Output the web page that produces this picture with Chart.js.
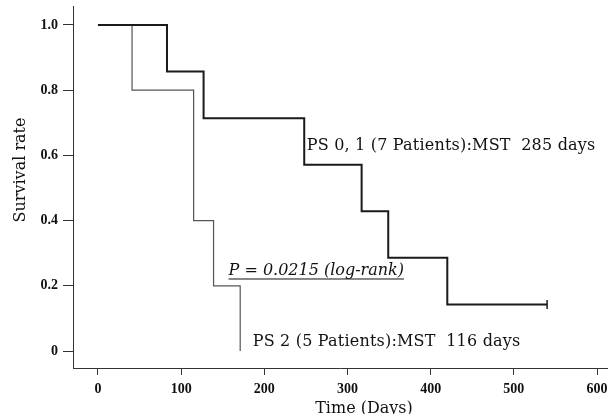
<!DOCTYPE html>
<html>
<head>
<meta charset="utf-8">
<script src="https://cdn.jsdelivr.net/npm/chart.js@4"></script>
<style>
  html, body { margin: 0; padding: 0; background: #fff; }
  #wrap { width: 613px; height: 414px; position: relative; }
</style>
</head>
<body>
<div id="wrap"><canvas id="km"></canvas></div>
<script>
// --- data ---
const ps01Days = [0, 83, 127, 248, 317, 349, 420, 540];
const ps01Surv = [1.0, 0.857, 0.714, 0.571, 0.429, 0.286, 0.143, 0.143];
const ps2Days = [0, 41, 115, 139, 171];
const ps2Surv = [1.0, 0.8, 0.4, 0.2, 0.0];

const xTicks = [0, 100, 200, 300, 400, 500, 600];
const yTicks = [0, 0.2, 0.4, 0.6, 0.8, 1.0];
const yTickLabels = ['0', '0.2', '0.4', '0.6', '0.8', '1.0'];

const ps01Label = 'PS 0, 1 (7 Patients):MST  285 days';
const ps2Label = 'PS 2 (5 Patients):MST  116 days';
const pLabel = 'P = 0.0215 (log-rank)';
const xTitle = 'Time (Days)';
const yTitle = 'Survival rate';

const serif = '"Liberation Serif", serif';
const wideSerif = '"DejaVu Serif", serif';

function toPoints(xs, ys) {
    return xs.map((x, i) => ({ x, y: ys[i] }));
}

// texts and axis titles
const annotations = {
    id: 'annotations',
    afterDatasetsDraw(chart) {
        const { ctx, scales: { x, y } } = chart;
        ctx.save();
        ctx.fillStyle = '#111';
        ctx.textBaseline = 'middle';
        ctx.textAlign = 'left';

        ctx.font = '16px ' + wideSerif;
        ctx.letterSpacing = '0.2px';
        ctx.fillText(ps01Label, x.getPixelForValue(251), y.getPixelForValue(0.63));
        ctx.fillText(ps2Label, x.getPixelForValue(186), y.getPixelForValue(0.027));

        ctx.font = 'italic 16px ' + wideSerif;
        ctx.letterSpacing = '0px';
        const px = x.getPixelForValue(157), py = y.getPixelForValue(0.247);
        ctx.fillText(pLabel, px, py);
        const w = ctx.measureText(pLabel).width;
        ctx.strokeStyle = '#111';
        ctx.lineWidth = 1;
        ctx.beginPath();
        ctx.moveTo(px, py + 8.5);
        ctx.lineTo(px + w, py + 8.5);
        ctx.stroke();

        // axis titles
        ctx.font = '16px ' + wideSerif;
        ctx.textAlign = 'center';
        ctx.fillText(xTitle, 364, 409);
        ctx.translate(21, 170);
        ctx.rotate(-Math.PI / 2);
        ctx.fillText(yTitle, 0, 0);
        ctx.restore();
    }
};

new Chart(document.getElementById('km').getContext('2d'), {
    type: 'line',
    data: {
        datasets: [{
            label: 'PS 0, 1',
            data: toPoints(ps01Days, ps01Surv),
            stepped: 'before',
            borderColor: '#1a1a1a',
            borderWidth: 2,
            pointRadius: ps01Days.map((d, i) => i === ps01Days.length - 1 ? 4.5 : 0),
            pointStyle: 'line',
            rotation: 90,
            pointBorderColor: '#1a1a1a',
            pointBorderWidth: 1.5,
            fill: false
        }, {
            label: 'PS 2',
            data: toPoints(ps2Days, ps2Surv),
            stepped: 'before',
            borderColor: '#555',
            borderWidth: 1.2,
            pointRadius: 0,
            fill: false
        }]
    },
    options: {
        responsive: true, maintainAspectRatio: false,
        animation: false,
        layout: { padding: { top: 5, left: 0, right: 0, bottom: 0 } },
        plugins: { legend: { display: false }, tooltip: { enabled: false } },
        scales: {
            x: {
                type: 'linear',
                min: -30, max: 612,
                afterBuildTicks: s => { s.ticks = xTicks.map(v => ({ value: v })); },
                afterFit: s => { s.height = 46; s.paddingLeft = 0; s.paddingRight = 0; },
                ticks: {
                    color: '#111', padding: 6, maxRotation: 0, autoSkip: false,
                    font: { family: serif, size: 14, weight: 'bold' }
                },
                grid: { drawOnChartArea: false, drawTicks: true, tickLength: 7, color: '#333', lineWidth: 1 },
                border: { display: true, color: '#333', width: 1 }
            },
            y: {
                type: 'linear',
                min: -0.052, max: 1.058,
                afterBuildTicks: s => { s.ticks = yTicks.map(v => ({ value: v })); },
                afterFit: s => { s.width = 73; s.paddingTop = 0; s.paddingBottom = 0; },
                ticks: {
                    color: '#111', padding: 5, autoSkip: false,
                    callback: (v) => yTickLabels[yTicks.indexOf(v)] ?? '',
                    font: { family: serif, size: 14, weight: 'bold' }
                },
                grid: { drawOnChartArea: false, drawTicks: true, tickLength: 10, color: '#333', lineWidth: 1 },
                border: { display: true, color: '#333', width: 1 }
            }
        }
    },
    plugins: [annotations]
});
</script>
</body>
</html>
